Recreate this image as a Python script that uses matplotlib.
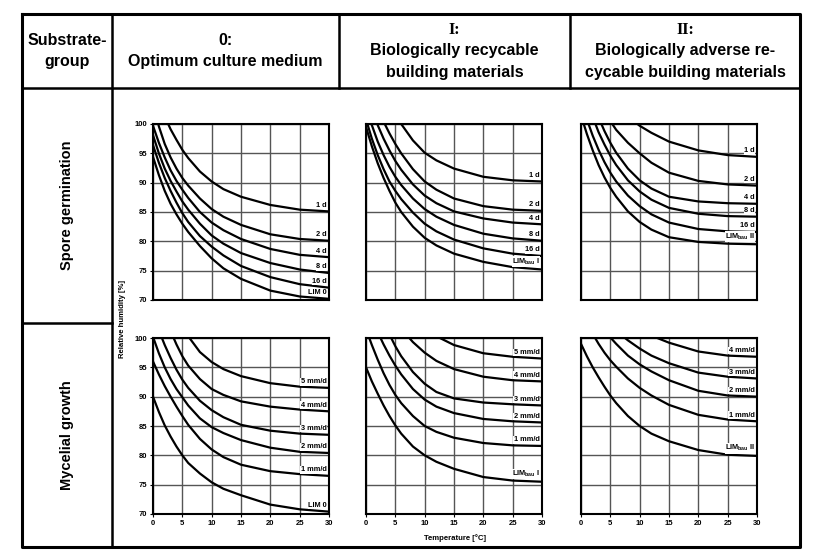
import matplotlib
matplotlib.use("Agg")
import matplotlib.pyplot as plt

plt.rcParams['font.family'] = ['Liberation Sans', 'DejaVu Sans']
plt.rcParams['mathtext.default'] = 'regular'

# temperature grid the curves were read at [°C]
TEMP = [0, 1, 2, 3, 4, 5, 6, 8, 10, 12, 15, 20, 25, 30]

# relative humidity [%] per isopleth (values above 100 lie outside the plot)
SPORE_0_LABELS = ["1 d", "2 d", "4 d", "8 d", "16 d", "LIM 0"]
SPORE_0 = [
    [106.7, 103.8, 101.3, 99.1, 97.3, 95.6, 94.2, 91.9, 90.2, 88.9, 87.6, 86.2, 85.4, 85.1],
    [103.5, 99.6, 96.6, 94.3, 92.4, 90.8, 89.5, 87.3, 85.5, 84.2, 82.8, 81.2, 80.4, 80.1],
    [99.7, 96.8, 94.3, 92.1, 90.3, 88.8, 87.4, 85.0, 83.2, 81.9, 80.4, 78.7, 77.7, 77.3],
    [98.1, 95.0, 92.4, 90.3, 88.5, 86.8, 85.4, 83.0, 81.0, 79.6, 78.0, 76.3, 75.2, 74.6],
    [96.4, 93.4, 90.8, 88.6, 86.6, 84.8, 83.3, 80.9, 79.1, 77.6, 75.8, 73.9, 72.7, 72.1],
    [94.4, 91.3, 88.6, 86.4, 84.6, 83.0, 81.6, 79.2, 77.1, 75.4, 73.6, 71.6, 70.6, 70.2],
]

SPORE_I_LABELS = ["1 d", "2 d", "4 d", "8 d", "16 d", r"LIM$_{bau}$ I"]
SPORE_I = [
    [116.0, 112.5, 109.4, 106.6, 104.0, 101.8, 100.0, 97.2, 95.1, 93.8, 92.4, 91.0, 90.4, 90.2],
    [108.5, 105.5, 102.7, 100.4, 98.4, 96.6, 95.0, 92.3, 90.2, 88.8, 87.3, 86.0, 85.4, 85.2],
    [105.5, 102.6, 99.8, 97.5, 95.5, 93.7, 92.2, 89.7, 87.8, 86.5, 85.1, 83.9, 83.2, 82.9],
    [103.0, 99.8, 97.0, 94.7, 92.7, 91.0, 89.6, 87.3, 85.5, 84.2, 82.8, 81.3, 80.5, 80.1],
    [100.8, 97.5, 94.7, 92.3, 90.2, 88.6, 87.2, 84.9, 83.0, 81.7, 80.3, 78.8, 77.9, 77.5],
    [99.5, 96.2, 93.3, 90.8, 88.6, 86.6, 85.0, 82.5, 80.6, 79.3, 77.9, 76.5, 75.6, 75.2],
]

SPORE_II_LABELS = ["1 d", "2 d", "4 d", "8 d", "16 d", r"LIM$_{bau}$ II"]
SPORE_II = [
    [112.0, 110.5, 109.0, 107.5, 106.0, 104.8, 103.6, 101.3, 99.7, 98.5, 97.0, 95.5, 94.7, 94.4],
    [113.0, 110.0, 107.2, 104.6, 102.4, 100.5, 99.0, 96.8, 95.0, 93.4, 91.7, 90.3, 89.7, 89.5],
    [110.5, 107.0, 103.9, 101.1, 98.8, 96.8, 95.1, 92.4, 90.4, 89.0, 87.6, 86.8, 86.5, 86.4],
    [107.5, 104.2, 101.2, 98.6, 96.5, 94.6, 93.0, 90.4, 88.5, 87.1, 85.7, 84.7, 84.3, 84.2],
    [104.0, 100.8, 98.0, 95.6, 93.5, 91.7, 90.2, 87.8, 86.0, 84.6, 83.2, 82.1, 81.7, 81.6],
    [101.5, 98.3, 95.5, 93.0, 90.9, 89.1, 87.6, 85.1, 83.3, 82.0, 80.7, 79.9, 79.6, 79.5],
]

MYC_0_LABELS = ["5 mm/d", "4 mm/d", "3 mm/d", "2 mm/d", "1 mm/d", "LIM 0"]
MYC_0 = [
    [115.0, 112.0, 109.2, 106.7, 104.4, 102.2, 100.3, 97.6, 95.9, 94.7, 93.5, 92.3, 91.7, 91.5],
    [110.3, 107.0, 104.0, 101.2, 98.9, 96.9, 95.3, 93.0, 91.3, 90.3, 89.2, 88.3, 87.8, 87.5],
    [104.0, 101.3, 98.8, 96.6, 94.6, 92.9, 91.5, 89.3, 87.7, 86.5, 85.2, 84.2, 83.7, 83.5],
    [100.2, 97.4, 95.0, 93.0, 91.3, 89.9, 88.5, 86.3, 84.8, 83.8, 82.6, 81.3, 80.6, 80.4],
    [96.0, 93.8, 91.8, 90.0, 88.3, 86.7, 85.2, 82.8, 81.0, 79.7, 78.4, 77.3, 76.8, 76.5],
    [90.0, 87.4, 85.1, 83.2, 81.5, 80.0, 78.7, 76.9, 75.4, 74.3, 73.2, 71.6, 70.8, 70.4],
]

MYC_I_LABELS = ["5 mm/d", "4 mm/d", "3 mm/d", "2 mm/d", "1 mm/d", r"LIM$_{bau}$ I"]
MYC_I = [
    [112.0, 110.6, 109.4, 108.2, 107.0, 105.8, 104.8, 103.0, 101.5, 100.3, 98.8, 97.4, 96.8, 96.5],
    [113.0, 111.0, 109.0, 107.0, 105.0, 103.2, 101.6, 99.3, 97.5, 96.1, 94.7, 93.4, 92.8, 92.6],
    [110.0, 107.4, 105.0, 102.8, 100.6, 98.6, 96.9, 94.2, 92.2, 90.8, 89.7, 89.0, 88.7, 88.5],
    [106.0, 103.5, 101.0, 98.9, 97.0, 95.3, 93.8, 91.3, 89.5, 88.3, 87.2, 86.2, 85.8, 85.6],
    [101.5, 98.8, 96.3, 94.0, 92.0, 90.3, 88.9, 86.7, 85.0, 84.0, 83.0, 82.1, 81.7, 81.6],
    [95.0, 92.6, 90.5, 88.5, 86.7, 85.1, 83.7, 81.5, 80.0, 78.9, 77.7, 76.3, 75.7, 75.5],
]

MYC_II_LABELS = ["4 mm/d", "3 mm/d", "2 mm/d", "1 mm/d", r"LIM$_{bau}$ II"]
MYC_II = [
    [107.4, 106.8, 106.2, 105.6, 105.0, 104.4, 103.8, 102.6, 101.5, 100.4, 99.2, 97.7, 97.0, 96.8],
    [107.0, 106.0, 105.0, 104.0, 103.0, 102.1, 101.2, 99.6, 98.2, 97.0, 95.7, 94.1, 93.4, 93.1],
    [107.5, 105.6, 103.9, 102.4, 101.2, 100.1, 99.0, 97.0, 95.5, 94.3, 92.8, 91.0, 90.2, 90.0],
    [104.8, 102.6, 100.7, 99.0, 97.5, 96.2, 95.1, 93.1, 91.5, 90.2, 88.6, 86.9, 86.1, 85.8],
    [99.0, 96.9, 95.0, 93.3, 91.7, 90.2, 88.9, 86.7, 85.0, 83.7, 82.4, 80.9, 80.1, 79.9],
]

COL_HEADERS = [
    [("Substrate-", 'sans'), ("group", 'sans')],
    [("0:", 'sans'), ("Optimum culture medium", 'sans')],
    [("I:", 'serif'), ("Biologically recycable", 'sans'), ("building materials", 'sans')],
    [("II:", 'serif'), ("Biologically adverse re-", 'sans'), ("cycable building materials", 'sans')],
]
ROW_HEADERS = ["Spore germination", "Mycelial growth"]

W, H = 815, 556
fig = plt.figure(figsize=(W / 100, H / 100), dpi=100)

# table frame drawn in pixel coordinates
bg = fig.add_axes([0, 0, 1, 1])
bg.set_xlim(0, W)
bg.set_ylim(H, 0)
bg.axis('off')

left, right, top, bottom = 22, 800, 14, 547
head_y, row_y = 88, 323
col_x = [112, 339, 570]
lw = 1.8
bg.plot([left, right, right, left, left], [top, top, bottom, bottom, top], color='black', lw=2.2)
bg.plot([left, right], [head_y, head_y], color='black', lw=lw)
bg.plot([col_x[0], col_x[0]], [top, bottom], color='black', lw=lw)
for x in col_x[1:]:
    bg.plot([x, x], [top, head_y], color='black', lw=lw)
bg.plot([left, col_x[0]], [row_y, row_y], color='black', lw=lw)

centers = [(left + col_x[0]) / 2, (col_x[0] + col_x[1]) / 2,
           (col_x[1] + col_x[2]) / 2, (col_x[2] + right) / 2]
for cx, lines in zip(centers, COL_HEADERS):
    n = len(lines)
    y0 = 51 - (n - 1) * 21 / 2
    for i, (txt, fam) in enumerate(lines):
        family = 'Liberation Serif' if fam == 'serif' else 'Liberation Sans'
        bg.text(cx, y0 + i * 21, txt, ha='center', va='center', fontsize=11.5,
                fontweight='bold', family=family)

for txt, cy in zip(ROW_HEADERS, [(head_y + row_y) / 2, (row_y + bottom) / 2]):
    bg.text(centers[0], cy, txt, ha='center', va='center', rotation=90,
            fontsize=10.5, fontweight='bold')

bg.text(123, 319, "Relative humidity [%]", rotation=90, ha='center', va='center',
        fontsize=5.6, fontweight='bold')
bg.text(455, 538, "Temperature [°C]", ha='center', va='center',
        fontsize=5.6, fontweight='bold')

# isopleth panels
panels = [
    (SPORE_0, SPORE_0_LABELS), (SPORE_I, SPORE_I_LABELS), (SPORE_II, SPORE_II_LABELS),
    (MYC_0, MYC_0_LABELS), (MYC_I, MYC_I_LABELS), (MYC_II, MYC_II_LABELS),
]
ax_left = [153, 366, 581]
ax_top = [124, 338]
size = 176

for k, (curves, labels) in enumerate(panels):
    r, c = divmod(k, 3)
    ax = fig.add_axes([ax_left[c] / W, 1 - (ax_top[r] + size) / H, size / W, size / H])
    ax.set_xlim(0, 30)
    ax.set_ylim(70, 100)
    ax.set_xticks(range(0, 31, 5))
    ax.set_yticks(range(70, 101, 5))
    ax.grid(True, color='#555555', lw=1.0)
    ax.set_axisbelow(True)
    for s in ax.spines.values():
        s.set_linewidth(1.5)
        s.set_zorder(5)
    ax.tick_params(length=2, width=0.8, pad=2, labelsize=5.5, colors='black')
    for t in ax.get_xticklabels() + ax.get_yticklabels():
        t.set_fontweight('bold')
    if c != 0:
        ax.tick_params(axis='y', labelleft=False, length=0)
    if r != 1:
        ax.tick_params(axis='x', labelbottom=False, length=0)
    for rh, lab in zip(curves, labels):
        ax.plot(TEMP, rh, color='black', lw=1.6, zorder=3)
        ax.text(29.6, rh[-1] + 0.45, lab, ha='right', va='bottom', fontsize=5.3,
                fontweight='bold', zorder=4,
                bbox=dict(facecolor='white', edgecolor='none', pad=0.2))

fig.savefig("out.png", dpi=100)
